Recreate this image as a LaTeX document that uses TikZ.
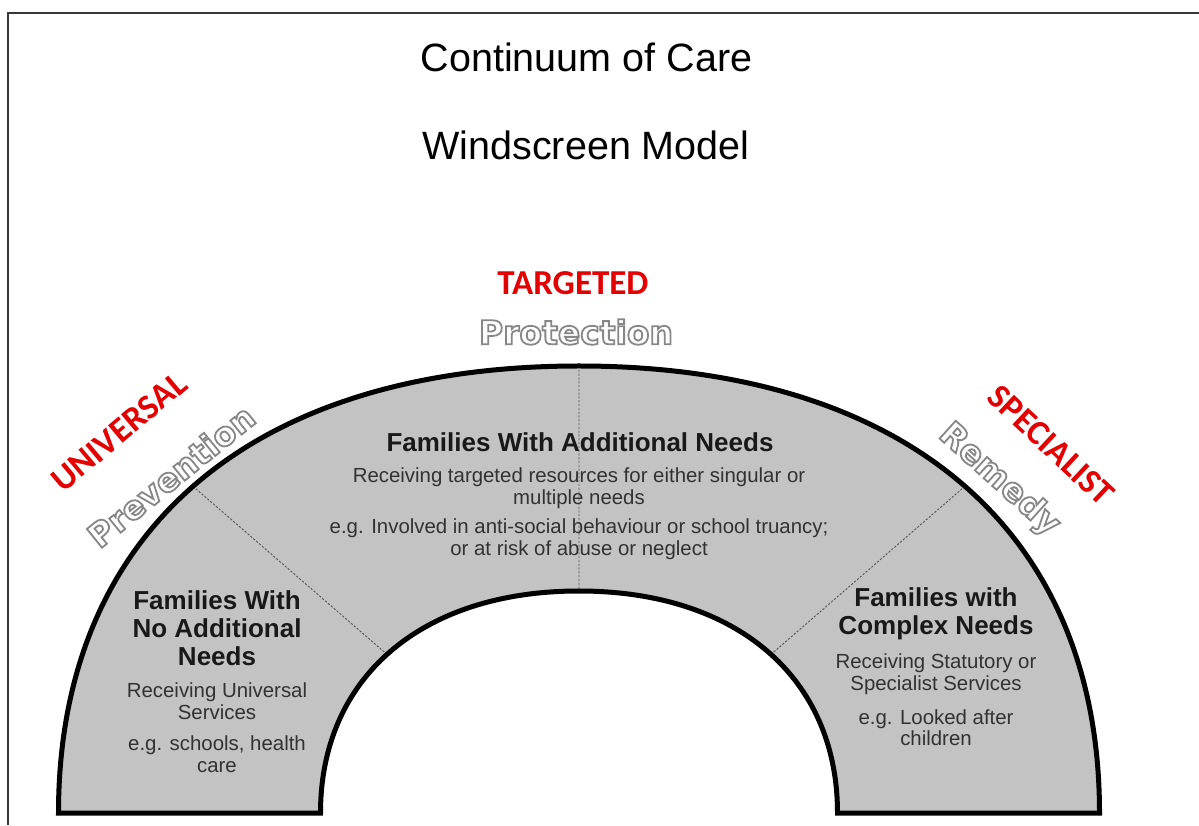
\documentclass[tikz,border=0pt]{standalone}
\usepackage{fontspec}
\setmainfont{Liberation Sans}
\newfontfamily\labfont{Carlito}
\newfontfamily\outfont{DejaVu Sans}
\usetikzlibrary{intersections}
\definecolor{ringfill}{RGB}{195,195,195}
\definecolor{catred}{RGB}{228,0,0}
\definecolor{outl}{RGB}{135,135,135}
\definecolor{headc}{RGB}{25,25,25}
\definecolor{bodyc}{RGB}{50,50,50}
\definecolor{divc}{RGB}{85,85,85}
\definecolor{framec}{RGB}{55,55,55}
\newcommand\hollowtext[1]{\special{pdf:literal 1 Tr 1.8 w}#1\special{pdf:literal 0 Tr}}
\begin{document}
\begin{tikzpicture}[x=1pt,y=1pt,
  titlet/.style={font=\fontsize{39.5}{44}\selectfont, text=black, inner sep=0pt},
  headt/.style={font=\fontsize{26}{28}\selectfont\bfseries, text=headc, align=center, inner sep=0pt},
  bodyt/.style={font=\fontsize{20.4}{21.5}\selectfont, text=bodyc, align=center, inner sep=0pt},
  catt/.style={font=\labfont\fontsize{35}{38}\selectfont\bfseries, text=catred, inner sep=0pt},
  subt/.style={font=\outfont\fontsize{33}{36}\selectfont\bfseries, text=outl, inner sep=0pt},
  divider/.style={draw=divc, line width=0.9pt, dash pattern=on 2.2pt off 1.6pt},
  ringline/.style={draw=black, line width=5pt, line join=miter},
  framel/.style={draw=framec, line width=2pt, line join=miter}]
\useasboundingbox (0,0) rectangle (1199,825);
\fill[white] (0,0) rectangle (1199,825);

% frame
\coordinate (fbl) at (7.7,0);
\coordinate (ftl) at (7.7,812);
\coordinate (ftr) at (1199,812);
\draw[framel] (fbl) -- (ftl) -- (ftr);

% ring fill
\fill[ringfill, name path=ring] (58.5,12) .. controls (58.5,293.6) and (251.1,459) .. (579,459)
  .. controls (906.9,459) and (1099.5,293.6) .. (1099.5,12) -- (837.5,12)
  .. controls (837.5,147.4) and (736.7,234) .. (579,234)
  .. controls (421.3,234) and (320.5,147.4) .. (320.5,12) -- cycle;

% dividers
\path[name path=ldiv] (150,376) -- (450,116);
\path[name path=rdiv] (1008,376) -- (708,116);
\path[name path=cdiv] (579,520) -- (579,180);
\path[name intersections={of=ring and ldiv, sort by=ldiv, by={lo,li}}];
\path[name intersections={of=ring and rdiv, sort by=rdiv, by={ro,ri}}];
\path[name intersections={of=ring and cdiv, sort by=cdiv, by={co,ci}}];
\draw[divider] (lo) -- (li);
\draw[divider] (ro) -- (ri);
\draw[divider] (co) -- (ci);

% ring outline
\draw[ringline] (58.5,12) .. controls (58.5,293.6) and (251.1,459) .. (579,459)
  .. controls (906.9,459) and (1099.5,293.6) .. (1099.5,12) -- (837.5,12)
  .. controls (837.5,147.4) and (736.7,234) .. (579,234)
  .. controls (421.3,234) and (320.5,147.4) .. (320.5,12) -- cycle;

% titles
\node[titlet] (title1) at (586.5,768) {Continuum of Care};
\node[titlet] (title2) at (586,680) {Windscreen Model};

% category labels
\node[catt, rotate=40] (univ) at (119,393) {UNIVERSAL};
\node[subt, rotate=39] (prev) at (171,349) {\hollowtext{Prevention}};
\node[catt] (targ) at (573,541.5) {TARGETED};
\node[subt] (prot) at (576,493) {\hollowtext{Protection}};
\node[catt, rotate=-43] (spec) at (1051,380) {SPECIALIST};
\node[subt, rotate=-42] (rem) at (999,345) {\hollowtext{Remedy}};

% centre segment
\node[headt] (chead) at (580,383) {Families With Additional Needs};
\node[bodyt] (cbody1) at (579,337) {Receiving targeted resources for either singular or\\multiple needs};
\node[bodyt] (cbody2) at (579,286) {e.g. Involved in anti-social behaviour or school truancy;\\or at risk of abuse or neglect};

% left segment
\node[headt] (lhead) at (217,197) {Families With\\No Additional\\Needs};
\node[bodyt] (lbody1) at (217,124) {Receiving Universal\\Services};
\node[bodyt] (lbody2) at (217,71) {e.g. schools, health\\care};

% right segment
\node[headt] (rhead) at (936,211) {Families with\\Complex Needs};
\node[bodyt] (rbody1) at (936,151) {Receiving Statutory or\\Specialist Services};
\node[bodyt] (rbody2) at (936,97.5) {e.g. Looked after\\children};
\end{tikzpicture}
\end{document}
